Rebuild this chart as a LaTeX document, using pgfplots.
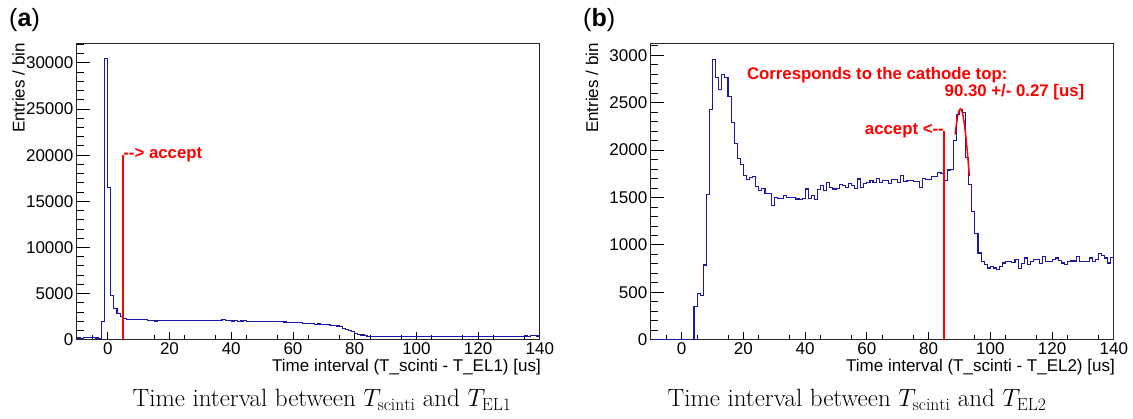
\documentclass[border=0pt]{standalone}
\usepackage{pgfplots}
\usepackage{pgfplotstable}
\pgfplotsset{compat=1.18}
\usepackage{fontspec}
\newfontfamily\arial{Liberation Sans}
\definecolor{hblue}{RGB}{25,25,165}
\definecolor{ared}{RGB}{255,0,0}

\pgfplotstableread{
x y
-10 180
-9 150
-8 200
-7 220
-6 250
-5 200
-4 180
-3 100
-2 2000
-1 30500
0 16450
1 4750
2 3340
3 2830
4 2540
5 2300
6 2180
7 2170
8 2160
9 2170
10 2150
11 2160
12 2150
13 2120
14 2050
15 2030
16 2060
17 2080
18 2070
19 2100
20 2060
21 2080
22 2070
23 2050
24 2080
25 2060
26 2070
27 2120
28 2090
29 2060
30 2070
31 2050
32 2060
33 2040
34 2070
35 2060
36 2100
37 2200
38 2120
39 2080
40 2030
41 2040
42 2020
43 2030
44 2040
45 2020
46 1990
47 2000
48 1980
49 1990
50 1970
51 1980
52 1960
53 1950
54 1960
55 1930
56 1940
57 1920
58 1900
59 1880
60 1870
61 1860
62 1870
63 1800
64 1720
65 1760
66 1800
67 1650
68 1700
69 1640
70 1660
71 1620
72 1580
73 1560
74 1480
75 1400
76 1260
77 1140
78 980
79 850
80 720
81 600
82 510
83 440
84 380
85 350
86 340
87 330
88 340
89 330
90 350
91 340
92 330
93 340
94 350
95 340
96 330
97 340
98 350
99 340
100 360
101 350
102 340
103 350
104 360
105 340
106 350
107 360
108 350
109 340
110 350
111 360
112 370
113 350
114 360
115 350
116 340
117 360
118 370
119 360
120 350
121 360
122 370
123 360
124 350
125 370
126 380
127 360
128 370
129 380
130 360
131 370
132 380
133 390
134 370
135 400
136 380
137 410
138 420
139 400
140 400
}\histA

\pgfplotstableread{
x y
-10 0
4 350
5 490
6 467
7 788
8 1530
9 2433
10 2960
11 2770
12 2644
13 2795
14 2770
15 2566
16 2292
17 2067
18 1912
19 1853
20 1730
21 1690
22 1710
23 1720
24 1620
25 1570
26 1600
27 1540
28 1540
29 1420
30 1500
31 1490
32 1490
33 1520
34 1500
35 1505
36 1500
37 1484
38 1477
39 1490
40 1590
41 1494
42 1519
43 1480
44 1582
45 1624
46 1575
47 1660
48 1610
49 1590
50 1595
51 1635
52 1630
53 1610
54 1645
55 1624
56 1596
57 1695
58 1610
59 1652
60 1655
61 1680
62 1660
63 1705
64 1660
65 1677
66 1680
67 1652
68 1688
69 1690
70 1660
71 1730
72 1670
73 1680
74 1680
75 1670
76 1670
77 1610
78 1705
79 1688
80 1690
81 1723
82 1723
83 1765
84 1750
85 1680
86 1790
87 1800
88 2100
89 2380
90 2430
91 2400
92 1920
93 1640
94 1350
95 1125
96 915
97 826
98 791
99 756
100 773
101 756
102 745
103 770
104 809
105 826
106 826
107 812
108 844
109 749
110 802
111 862
112 791
113 826
114 844
115 844
116 808
117 879
118 826
119 826
120 844
121 862
122 840
123 809
124 791
125 826
126 830
127 830
128 879
129 826
130 826
131 826
132 862
133 826
134 850
135 914
136 890
137 862
138 809
139 868
140 868
}\histB

\pgfplotsset{
  rootstyle/.style={
    scale only axis,
    width=463pt, height=295.7pt,
    xmin=-10, xmax=140, ymin=0,
    xtick={0,20,...,140}, minor xtick={-5,5,...,135},
    tick align=inside, xtick pos=bottom, ytick pos=left,
    major tick length=13pt, minor tick length=7pt,
    xtick style={/pgfplots/major tick length=8pt, /pgfplots/minor tick length=5pt},
    tick style={black, line width=0.9pt},
    axis line style={black!85, line width=1pt},
    tick label style={font=\arial\fontsize{17}{17}\selectfont},
    xticklabel style={yshift=1pt},
    /pgf/number format/assume math mode=true,
    /pgf/number format/1000 sep={},
    scaled y ticks=false,
    clip=false,
  },
  hist/.style={hblue, line width=1.1pt, const plot mark left},
}
\tikzset{
  ann/.style={ared, font=\arial\bfseries\fontsize{16.8}{16.8}\selectfont, inner sep=0pt},
}

\begin{document}
\begin{tikzpicture}
\path[use as bounding box] (0pt,0pt) rectangle (1133pt,419pt);

% ---------- panel (a)
\begin{axis}[rootstyle, at={(76.9pt,79.3pt)}, anchor=south west,
  ymax=32050, ytick={0,5000,...,30000}, minor ytick={1000,2000,...,32000}]
\addplot[hist] table[x=x,y=y] {\histA};
\draw[ared, line width=1.5pt] (axis cs:5,0) -- (axis cs:5,20000);
\node[ann, anchor=west] at (axis cs:5,20000) {-{}-> accept};
\end{axis}

% ---------- panel (b)
\begin{axis}[rootstyle, at={(650.8pt,79.3pt)}, anchor=south west,
  ymax=3120, ytick={0,500,...,3000}, minor ytick={100,200,...,3100}]
\addplot[hist] table[x=x,y=y] {\histB};
\addplot[ared, line width=1.5pt, smooth] coordinates {
(88.6,2165) (89.0,2273) (89.5,2372) (90.0,2426) (90.3,2435) (90.5,2431)
(91.0,2387) (91.5,2296) (92.0,2165) (92.5,1999) (93.0,1809) (93.2,1728)};
\draw[ared, line width=1.5pt] (axis cs:85,0) -- (axis cs:85,2205);
\node[ann, anchor=east] at (axis cs:85,2205) {accept <-{}-};
\node[ann, anchor=west] at (axis cs:21.1,2795) {Corresponds to the cathode top:};
\node[ann, anchor=east] at (axis cs:130.5,2609) {90.30 +/- 0.27 [us]};
\end{axis}

% ---------- outer labels
\node[font=\arial\fontsize{25}{25}\selectfont, anchor=base west, inner sep=0pt] at (9pt,392pt) {(\textbf{a})};
\node[font=\arial\fontsize{25}{25}\selectfont, anchor=base west, inner sep=0pt] at (583pt,392pt) {(\textbf{b})};

\node[font=\arial\fontsize{17}{17}\selectfont, rotate=90, anchor=east, inner sep=0pt] at (18.5pt,376pt) {Entries / bin};
\node[font=\arial\fontsize{17}{17}\selectfont, rotate=90, anchor=east, inner sep=0pt] at (592pt,376pt) {Entries / bin};

\node[font=\arial\fontsize{17}{17}\selectfont, anchor=base east, inner sep=0pt] at (541pt,47pt) {Time interval (T\_scinti - T\_EL1) [us]};
\node[font=\arial\fontsize{17}{17}\selectfont, anchor=base east, inner sep=0pt] at (1115pt,47pt) {Time interval (T\_scinti - T\_EL2) [us]};

\node[font=\fontsize{25}{25}\selectfont, anchor=base, inner sep=0pt] at (322pt,12pt) {Time interval between $T_{\mathrm{scinti}}$ and $T_{\mathrm{EL1}}$};
\node[font=\fontsize{25}{25}\selectfont, anchor=base, inner sep=0pt] at (857pt,12pt) {Time interval between $T_{\mathrm{scinti}}$ and $T_{\mathrm{EL2}}$};
\end{tikzpicture}
\end{document}
